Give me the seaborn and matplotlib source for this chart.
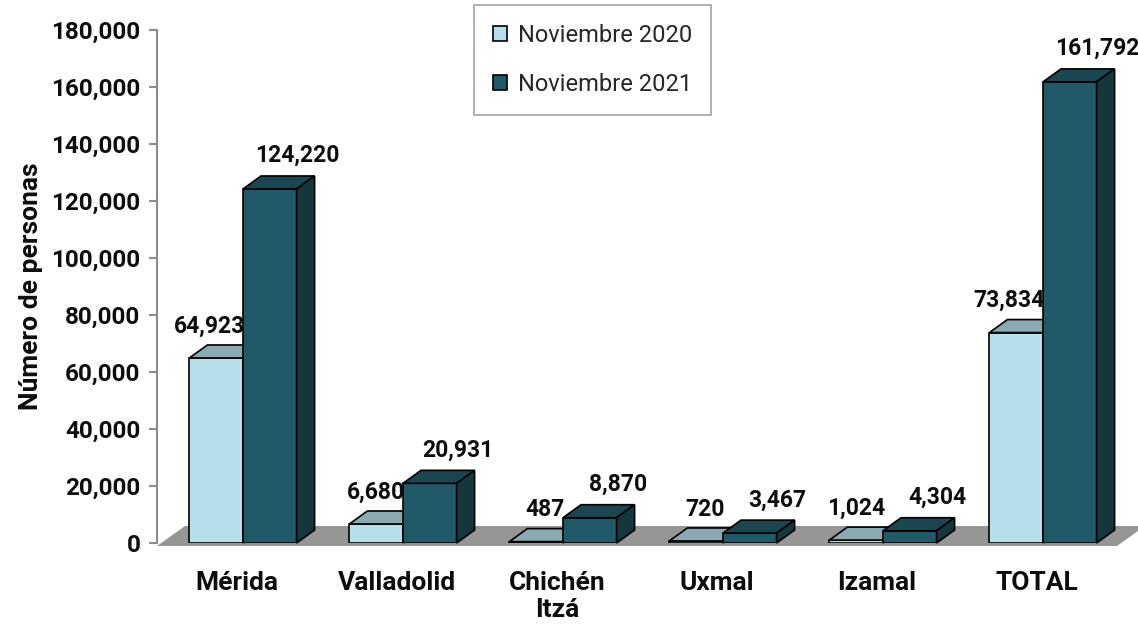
import pandas as pd
import seaborn as sns
import matplotlib.pyplot as plt
import matplotlib.transforms as mtransforms
from matplotlib.patches import Polygon, Patch
from matplotlib.ticker import FuncFormatter

sitios = ["Mérida", "Valladolid", "Chichén\nItzá", "Uxmal", "Izamal", "TOTAL"]
nov_2020 = [64923, 6680, 487, 720, 1024, 73834]
nov_2021 = [124220, 20931, 8870, 3467, 4304, 161792]
periodos = ["Noviembre 2020", "Noviembre 2021"]

df = pd.DataFrame({
    "sitio": sitios * 2,
    "personas": nov_2020 + nov_2021,
    "periodo": [periodos[0]] * len(sitios) + [periodos[1]] * len(sitios),
})

light, dark = "#B7DFE9", "#215968"
top_cols = ["#8AA9B1", "#1B4550"]
side_cols = ["#7E9FA7", "#16363E"]

sns.set_theme(style="white")
plt.rcParams['font.family'] = ['Roboto', 'DejaVu Sans']

W, H = 1138, 624
fig = plt.figure(figsize=(W / 100, H / 100), dpi=100)
ax = fig.add_axes([157 / W, 81 / H, 960 / W, 513 / H])

sns.barplot(data=df, x="sitio", y="personas", hue="periodo",
            palette=[light, dark], saturation=1, width=0.67,
            edgecolor="black", linewidth=1.2, legend=False, ax=ax)

shift = 86 / 160 - 0.5
ax.set_xlim(-0.5 - shift, len(sitios) - 0.5 - shift)
ax.set_ylim(0, 180000)

# 3d look: depth in data units
px_x = 1 / 160
px_y = 180000 / 513
dx, dy = 18 * px_x, 13 * px_y

for i, cont in enumerate(ax.containers):
    for rect in cont:
        x, w, h = rect.get_x(), rect.get_width(), rect.get_height()
        rect.set_zorder(3 + i)
        top = Polygon([(x, h), (x + dx, h + dy), (x + w + dx, h + dy), (x + w, h)],
                      closed=True, fc=top_cols[i], ec="black", lw=1.2,
                      zorder=3 + i, clip_on=False)
        side = Polygon([(x + w, 0), (x + w + dx, dy), (x + w + dx, h + dy), (x + w, h)],
                       closed=True, fc=side_cols[i], ec="black", lw=1.2,
                       zorder=2.5 + 1.5 * i, clip_on=False)
        ax.add_patch(top)
        ax.add_patch(side)
        if i == 0:
            ax.annotate(f"{int(h):,}", (x + w, h), xytext=(1.5, 23),
                        textcoords="offset points", ha="right", va="center",
                        fontsize=16.5, fontweight="bold", color="#0d0d0d", zorder=6)
        else:
            ax.annotate(f"{int(h):,}", (x + w / 2, h), xytext=(20, 24),
                        textcoords="offset points", ha="center", va="center",
                        fontsize=16.5, fontweight="bold", color="#0d0d0d", zorder=6)

# gray floor
x0, x1 = ax.get_xlim()
yf = -3 * px_y
yb = yf + 20 * px_y
floor = Polygon([(x0, yf), (x1, yf), (x1 + 28 * px_x, yb), (x0 + 28 * px_x, yb)],
                closed=True, fc="#969696", ec="none", zorder=1, clip_on=False)
ax.add_patch(floor)

for s in ["top", "right", "bottom"]:
    ax.spines[s].set_visible(False)
ax.spines["left"].set_color("#8c8c8c")
ax.spines["left"].set_linewidth(1.5)
ax.spines["left"].set_zorder(0.5)

ax.yaxis.set_major_formatter(FuncFormatter(lambda v, _: f"{v:,.0f}"))
ax.set_yticks(range(0, 180001, 20000))
ax.tick_params(axis="y", left=True, length=6, width=1.5, color="#8c8c8c",
               direction="out", labelsize=17.5, pad=6)
ax.tick_params(axis="x", bottom=False, length=0, labelsize=19, pad=20)
for lbl in ax.get_yticklabels() + ax.get_xticklabels():
    lbl.set_fontweight("bold")
    lbl.set_color("#0d0d0d")
for lbl in ax.get_xticklabels():
    lbl.set_transform(lbl.get_transform() +
                      mtransforms.ScaledTranslation(-6 / 100, 0, fig.dpi_scale_trans))
    lbl.set_linespacing(1.15)

ax.set_xlabel("")
ax.set_ylabel("Número de personas", fontsize=19, fontweight="bold",
              color="#0d0d0d", labelpad=6)

handles = [Patch(fc=light, ec="black", lw=1.2), Patch(fc=dark, ec="black", lw=1.2)]
leg = fig.legend(handles, periodos, loc="upper left",
                 bbox_to_anchor=(474 / W, 1 - 5 / H), borderaxespad=0,
                 frameon=True, fancybox=False,
                 edgecolor="#8c8c8c", fontsize=17, handlelength=0.6, handleheight=0.6,
                 handletextpad=0.45, borderpad=0.8, labelspacing=1.1)
leg.get_frame().set_linewidth(1.2)

fig.savefig("out.png", dpi=100)
